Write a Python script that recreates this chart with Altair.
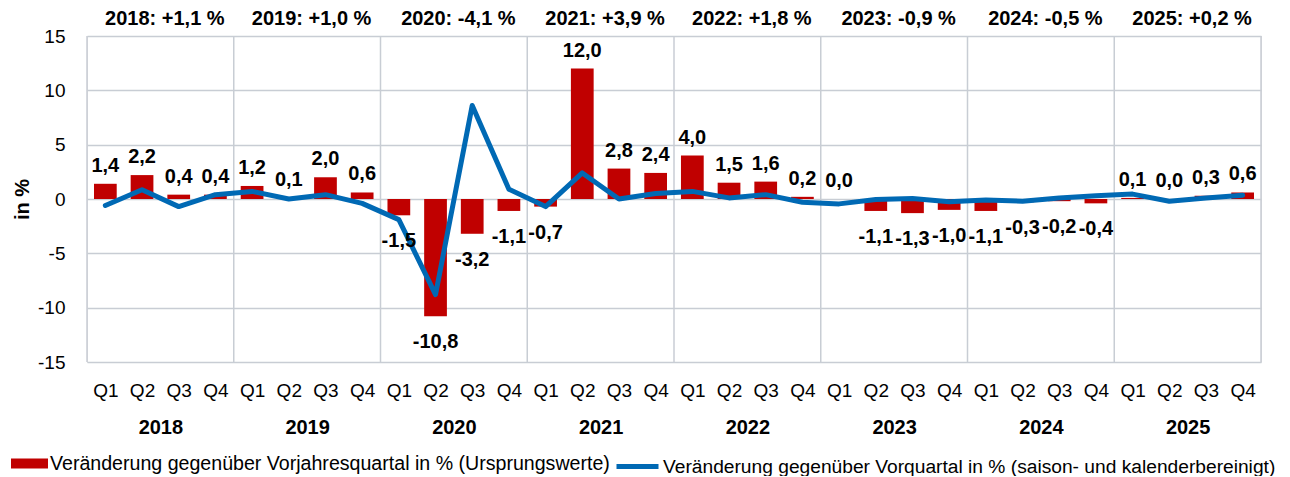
import altair as alt
import pandas as pd

# ---- data ----
quarters = ["Q1", "Q2", "Q3", "Q4"] * 8
years = ["2018", "2019", "2020", "2021", "2022", "2023", "2024", "2025"]
year_summary = ["2018: +1,1 %", "2019: +1,0 %", "2020: -4,1 %", "2021: +3,9 %",
                "2022: +1,8 %", "2023: -0,9 %", "2024: -0,5 %", "2025: +0,2 %"]
yoy = [1.4, 2.2, 0.4, 0.4, 1.2, 0.1, 2.0, 0.6,
       -1.5, -10.8, -3.2, -1.1, -0.7, 12.0, 2.8, 2.4,
       4.0, 1.5, 1.6, 0.2, 0.0, -1.1, -1.3, -1.0,
       -1.1, -0.3, -0.2, -0.4, 0.1, 0.0, 0.3, 0.6]
qoq = [-0.6, 0.85, -0.7, 0.4, 0.7, 0.0, 0.4, -0.4,
       -1.9, -8.8, 8.6, 0.9, -0.7, 2.4, 0.0, 0.5,
       0.7, 0.1, 0.4, -0.3, -0.45, -0.05, 0.05, -0.25,
       -0.1, -0.2, 0.1, 0.3, 0.45, -0.2, 0.1, 0.35]
y_ticks = [-15, -10, -5, 0, 5, 10, 15]

bar_name = "Veränderung gegenüber Vorjahresquartal in % (Ursprungswerte)"
line_name = "Veränderung gegenüber Vorquartal in % (saison- und kalenderbereinigt)"

BAR_COLOR = "#c00000"
LINE_COLOR = "#0069b4"
GRID = "#c8cdd4"
FONT = "Liberation Sans"

n = len(yoy)
df = pd.DataFrame({
    "idx": list(range(n)),
    "quarter": quarters,
    "yoy": yoy,
    "qoq": qoq,
    "label": [f"{v:.1f}".replace(".", ",") for v in yoy],
    "s_bar": [bar_name] * n,
    "s_line": [line_name] * n,
})
bounds = pd.DataFrame({"b": list(range(0, n + 1, 4))})

xscale = alt.Scale(domain=[0, n], nice=False, zero=False)
yscale = alt.Scale(domain=[-15, 15], nice=False, zero=False)

y_axis = alt.Axis(values=y_ticks, grid=True, gridColor=GRID, gridWidth=1.5,
                  domain=False, ticks=False, tickSize=0, labelFontSize=19,
                  labelExpr="'' + datum.value",
                  labelFont=FONT, labelColor="#000", labelPadding=22,
                  title="in %", titleFont=FONT, titleFontSize=20, titleFontWeight="bold",
                  titleColor="#000", titleX=-65, titleY=163, titleAngle=270,
                  titleBaseline="middle", titleAlign="center")

q_axis = alt.Axis(orient="bottom", values=[i + 0.5 for i in range(n)],
                  labelExpr="'Q' + (floor(datum.value) % 4 + 1)",
                  grid=False, domain=False, ticks=False, tickSize=0,
                  labelFont=FONT, labelFontSize=19, labelColor="#000",
                  labelBaseline="alphabetic", labelPadding=34, title=None)

year_list = "[" + ",".join(f"'{y}'" for y in years) + "]"
yr_axis = alt.Axis(orient="bottom", values=[4 * k + 2 for k in range(len(years))],
                   labelExpr=f"{year_list}[floor(datum.value / 4)]",
                   grid=False, domain=False, ticks=False, tickSize=0,
                   labelFont=FONT, labelFontSize=20, labelFontWeight="bold",
                   labelColor="#000", labelBaseline="alphabetic", labelPadding=71,
                   title=None)

sum_list = "[" + ",".join(f"'{s}'" for s in year_summary) + "]"
top_axis = alt.Axis(orient="top", values=[4 * k + 2 for k in range(len(years))],
                    labelExpr=f"{sum_list}[floor(datum.value / 4)]",
                    grid=False, domain=False, ticks=False, tickSize=0,
                    labelFont=FONT, labelFontSize=20, labelFontWeight="bold",
                    labelColor="#000", labelBaseline="alphabetic", labelPadding=12,
                    labelOffset=4, title=None)

base = alt.Chart(df).transform_calculate(
    x0="datum.idx + 0.19", x1="datum.idx + 0.81", xc="datum.idx + 0.5"
)

rules = alt.Chart(bounds).mark_rule(color=GRID, strokeWidth=1.5).encode(
    x=alt.X("b:Q", scale=xscale, axis=None)
)

bars = base.mark_bar().encode(
    x=alt.X("x0:Q", scale=xscale, axis=q_axis),
    x2="x1:Q",
    y=alt.Y("yoy:Q", scale=yscale, axis=y_axis),
    y2=alt.datum(0),
    fill=alt.Fill("s_bar:N", scale=alt.Scale(domain=[bar_name], range=[BAR_COLOR]),
                  legend=alt.Legend(orient="none", legendX=-76, legendY=409, title=None,
                                    symbolType="M-1,-0.27L1,-0.27L1,0.27L-1,0.27Z",
                                    symbolSize=1369, symbolStrokeWidth=0,
                                    labelFont=FONT, labelFontSize=19.6, labelColor="#000",
                                    labelLimit=2000, labelOffset=2)),
)

line = base.mark_line(strokeWidth=5, strokeJoin="round", strokeCap="round").encode(
    x=alt.X("xc:Q", scale=xscale, axis=yr_axis),
    y=alt.Y("qoq:Q", scale=yscale, axis=y_axis),
    stroke=alt.Stroke("s_line:N", scale=alt.Scale(domain=[line_name], range=[LINE_COLOR]),
                      legend=alt.Legend(orient="none", legendX=527, legendY=407, title=None,
                                        symbolType="stroke", symbolSize=1764,
                                        symbolStrokeWidth=5,
                                        labelFont=FONT, labelFontSize=19.2, labelColor="#000",
                                        labelLimit=2000, labelOffset=2)),
)

pos_labels = base.transform_filter("datum.yoy >= 0").mark_text(
    font=FONT, fontSize=20, fontWeight="bold", color="#000",
    baseline="alphabetic", dy=-12
).encode(
    x=alt.X("xc:Q", scale=xscale, axis=top_axis),
    y=alt.Y("yoy:Q", scale=yscale, axis=y_axis),
    text="label:N",
)

neg_labels = base.transform_filter("datum.yoy < 0").mark_text(
    font=FONT, fontSize=20, fontWeight="bold", color="#000",
    baseline="alphabetic", dy=32
).encode(
    x=alt.X("xc:Q", scale=xscale, axis=None),
    y=alt.Y("yoy:Q", scale=yscale, axis=y_axis),
    text="label:N",
)

chart = alt.layer(rules, bars, line, pos_labels, neg_labels).resolve_axis(
    x="independent"
).properties(
    width=1174, height=326,
    autosize=alt.AutoSizeParams(type="none"),
    padding={"left": 79, "top": 28, "right": 21, "bottom": 114},
).configure_view(stroke=None).configure(background="white")

chart.save("out.html", embed_options={"renderer": "svg", "actions": False})
